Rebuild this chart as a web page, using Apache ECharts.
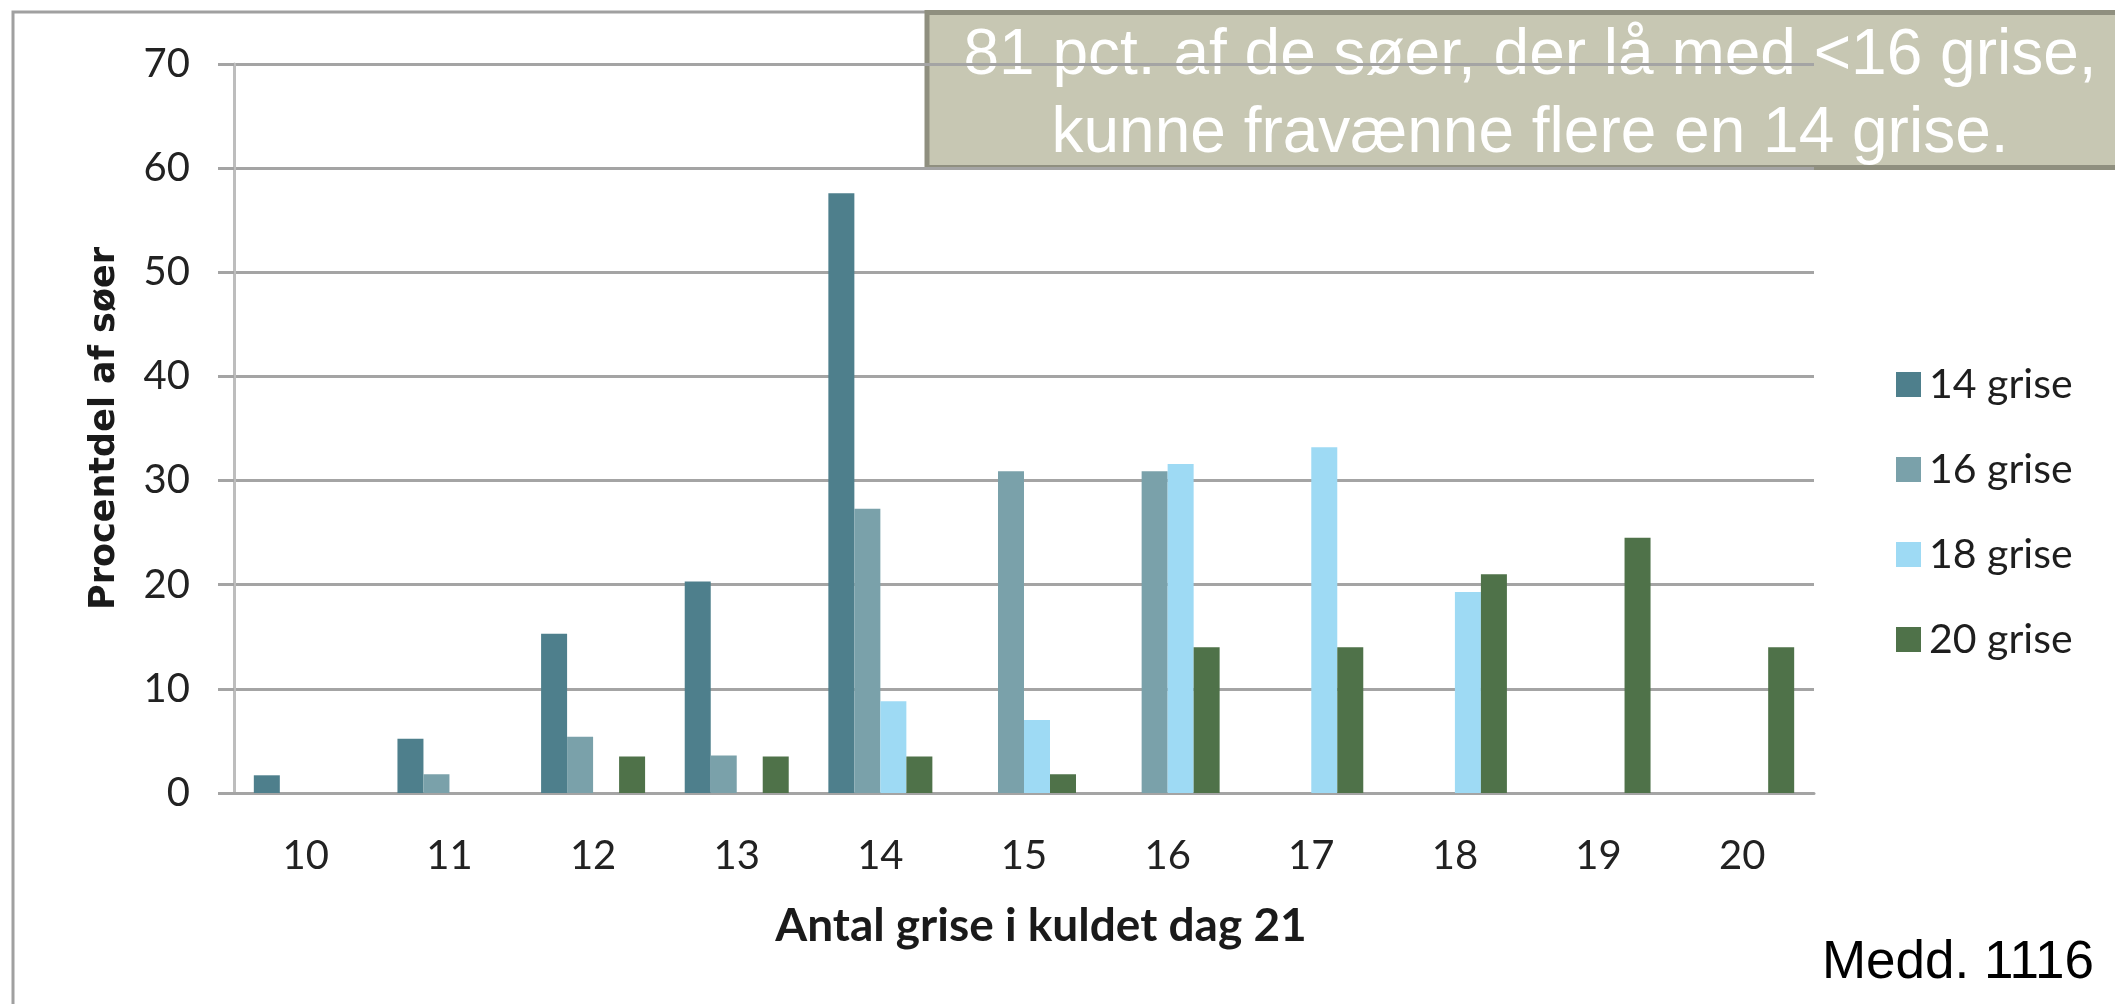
<!DOCTYPE html>
<html>
<head>
<meta charset="utf-8">
<title>Antal grise i kuldet dag 21</title>
<script src="https://cdn.jsdelivr.net/npm/echarts@6/dist/echarts.min.js"></script>
<style>
  html, body { margin: 0; padding: 0; background: #fff; }
  #chart { width: 2115px; height: 1004px; }
</style>
</head>
<body>
<div id="chart"></div>
<script>
'use strict';

// antal grise i kuldet dag 21
var categories = ['10', '11', '12', '13', '14', '15', '16', '17', '18', '19', '20'];

// procentdel af søer, pr. gruppe
var grise14 = [1.7, 5.2, 15.3, 20.3, 57.6, 0, 0, 0, 0, 0, 0];
var grise16 = [0, 1.8, 5.4, 3.6, 27.3, 30.9, 30.9, 0, 0, 0, 0];
var grise18 = [0, 0, 0, 0, 8.8, 7.0, 31.6, 33.2, 19.3, 0, 0];
var grise20 = [0, 0, 3.5, 3.5, 3.5, 1.8, 14.0, 14.0, 21.0, 24.5, 14.0];

var seriesNames = ['14 grise', '16 grise', '18 grise', '20 grise'];
var seriesData = [grise14, grise16, grise18, grise20];
var colors = ['#4e7f8c', '#7aa1aa', '#9edaf4', '#4f7249'];

var yTicks = [0, 10, 20, 30, 40, 50, 60, 70];

var calloutLines = [
  '81 pct. af de søer, der lå med <16 grise,',
  'kunne fravænne flere en 14 grise.'
];
var footnote = 'Medd. 1116';

var chart = echarts.init(document.getElementById('chart'));

var gridColor = '#a4a4a4';

var series = seriesNames.map(function (name, i) {
  return {
    name: name,
    type: 'bar',
    data: seriesData[i],
    barWidth: 26,
    barGap: '0%',
    itemStyle: { color: colors[i] },
    emphasis: { disabled: true }
  };
});

var option = {
  animation: false,
  backgroundColor: '#fff',
  color: colors,
  grid: {
    left: 234,
    right: 301,
    top: 64,
    bottom: 211,
    containLabel: false
  },
  legend: {
    data: seriesNames,
    orient: 'vertical',
    left: 1891,
    top: 359,
    itemWidth: 25,
    itemHeight: 25,
    itemGap: 44,
    icon: 'rect',
    textStyle: {
      fontFamily: 'Lato',
      fontSize: 41,
      lineHeight: 40,
      color: '#1e1e1e',
      padding: [0, 0, 0, 3]
    }
  },
  xAxis: {
    type: 'category',
    data: categories,
    name: 'Antal grise i kuldet dag 21',
    nameLocation: 'middle',
    nameGap: 110,
    nameTextStyle: {
      fontFamily: 'Lato',
      fontWeight: 'bold',
      fontSize: 46,
      color: '#1a1a1a',
      padding: [0, 0, 0, 34]
    },
    axisLine: { lineStyle: { color: gridColor, width: 3 } },
    axisTick: { show: false },
    axisLabel: {
      fontFamily: 'Lato',
      fontSize: 40,
      color: '#222',
      margin: 43
    }
  },
  yAxis: {
    type: 'value',
    min: yTicks[0],
    max: yTicks[yTicks.length - 1],
    interval: 10,
    name: 'Procentdel af søer',
    nameLocation: 'middle',
    nameGap: 112,
    nameTextStyle: {
      fontFamily: 'DejaVu Sans',
      fontWeight: 'bold',
      fontSize: 35,
      color: '#1a1a1a'
    },
    axisLine: { show: true, lineStyle: { color: '#bdbdbd', width: 3 } },
    axisTick: { show: true, length: 16, lineStyle: { color: gridColor, width: 3 } },
    splitLine: { lineStyle: { color: gridColor, width: 3 } },
    axisLabel: {
      fontFamily: 'Lato',
      fontSize: 40,
      color: '#222',
      margin: 44
    }
  },
  series: series,
  graphic: [
    {
      // ydre ramme
      type: 'rect',
      z: -10,
      silent: true,
      shape: { x: 13, y: 12, width: 2300, height: 1200 },
      style: { fill: null, stroke: '#a0a0a0', lineWidth: 3 }
    },
    {
      type: 'group',
      z: 100,
      silent: true,
      children: [
        {
          type: 'rect',
          shape: { x: 927, y: 12.5, width: 1300, height: 155 },
          style: { fill: '#c7c7b3', stroke: '#8f8f7f', lineWidth: 5 }
        },
        {
          type: 'text',
          x: 1530,
          y: 88,
          style: {
            text: calloutLines[0],
            fontFamily: 'Liberation Sans',
            fontSize: 64,
            fill: '#fff',
            textAlign: 'center',
            textVerticalAlign: 'bottom'
          }
        },
        {
          type: 'text',
          x: 1530,
          y: 166,
          style: {
            text: calloutLines[1],
            fontFamily: 'Liberation Sans',
            fontSize: 64,
            fill: '#fff',
            textAlign: 'center',
            textVerticalAlign: 'bottom'
          }
        }
      ]
    },
    {
      type: 'text',
      silent: true,
      x: 2094,
      y: 963,
      style: {
        text: footnote,
        fontFamily: 'Liberation Sans',
        fontSize: 53,
        fill: '#000',
        textAlign: 'right',
        textVerticalAlign: 'middle'
      }
    }
  ]
};

chart.setOption(option);
</script>
</body>
</html>
